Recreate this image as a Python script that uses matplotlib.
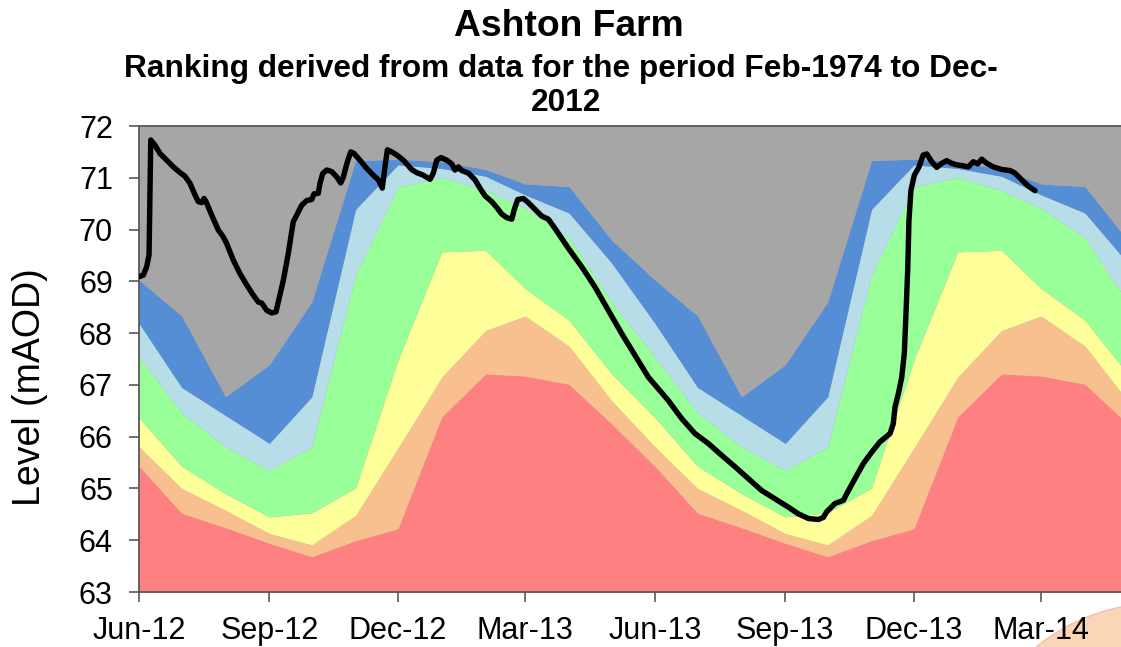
import pandas as pd
import matplotlib
matplotlib.use("Agg")
import matplotlib.pyplot as plt
from matplotlib.patches import Ellipse

plt.rcParams['font.family'] = ['Liberation Sans', 'DejaVu Sans']

# monthly ranking bands, Jun..May (same pattern each year)
red_top = [65.42, 64.52, 64.24, 63.94, 63.68, 63.99, 64.22, 66.38, 67.21, 67.17, 67.01, 66.25]
salmon_top = [65.80, 65.00, 64.58, 64.13, 63.91, 64.48, 65.78, 67.15, 68.05, 68.33, 67.75, 66.70]
yellow_top = [66.36, 65.43, 64.90, 64.45, 64.53, 65.01, 67.48, 69.57, 69.60, 68.86, 68.25, 67.22]
green_top = [67.53, 66.46, 65.80, 65.35, 65.80, 69.12, 70.82, 71.01, 70.75, 70.41, 69.84, 68.60]
lblue_top = [68.18, 66.95, 66.41, 65.87, 66.77, 70.39, 71.25, 71.18, 71.03, 70.67, 70.32, 69.36]
blue_top = [69.02, 68.33, 66.77, 67.39, 68.60, 71.33, 71.36, 71.31, 71.16, 70.88, 70.83, 69.80]

band_colors = ["#FF8080", "#F9C08F", "#FFFF99", "#99FF99", "#B7DDE8", "#558ED5"]
gray = "#A6A6A6"

# observed level, days since 1 Jun 2012
line_days = [0, 2.8, 5.2, 6.9, 8.1, 11.1, 14.6, 19.4, 24.1, 28.8, 32.3, 35.9, 39.4, 41.7,
             44.1, 45.8, 47.2, 51.2, 55.9, 59.4, 61.8, 66.5, 71.2, 76.0, 80.7, 84.2, 86.6,
             90.1, 93.7, 96.7, 98.3, 101.9, 105.4, 108.9, 111.4, 114.9, 118.4, 122.0,
             123.6, 126.6, 127.8, 129.7, 132.6, 136.1, 139.6, 142.5, 144.3, 147.2, 149.6,
             151.9, 156.1, 160.9, 165.5, 169.1, 171.9, 173.8, 175.5, 178.6, 182.1, 186.8,
             192.7, 196.2, 200.9, 205.7, 208.0, 210.4, 213.4, 217.5, 221.0, 223.3, 225.7,
             228.1, 232.8, 237.5, 241.0, 244.6, 249.3, 252.8, 256.4, 259.9, 263.5, 265.3,
             267.7, 271.7, 275.2, 280.0, 284.7, 289.4, 294.1, 303.5, 313.0, 322.4, 331.8,
             341.3, 350.7, 360.1, 374.2, 383.7, 393.1, 402.5, 412.0, 421.4, 430.8, 440.3,
             449.7, 459.1, 466.2, 473.3, 480.4, 483.9, 486.3, 492.2, 498.1, 500.5, 506.3,
             512.2, 518.1, 524.0, 531.1, 533.4, 534.6, 537.0, 539.4, 541.2, 542.2, 543.6,
             544.5, 545.9, 548.3, 551.6, 554.6, 557.1, 560.6, 564.1, 567.7, 571.2, 574.7,
             578.3, 582.9, 586.5, 590.0, 593.1, 596.0, 599.5, 604.2, 610.1, 616.0, 619.5,
             624.3, 628.9, 633.7]
line_level = [69.09, 69.12, 69.28, 69.51, 71.73, 71.63, 71.47, 71.34, 71.21, 71.10, 71.03,
              70.89, 70.67, 70.54, 70.52, 70.60, 70.54, 70.28, 69.99, 69.86, 69.73, 69.41,
              69.15, 68.93, 68.73, 68.60, 68.58, 68.44, 68.39, 68.41, 68.60, 69.02, 69.54,
              70.15, 70.28, 70.47, 70.56, 70.58, 70.69, 70.70, 70.89, 71.08, 71.15, 71.12,
              71.02, 70.90, 71.01, 71.31, 71.50, 71.47, 71.34, 71.18, 71.05, 70.96, 70.80,
              71.21, 71.54, 71.50, 71.44, 71.34, 71.16, 71.10, 71.05, 70.97, 71.09, 71.34,
              71.39, 71.34, 71.27, 71.15, 71.21, 71.14, 71.09, 70.96, 70.80, 70.65, 70.54,
              70.43, 70.30, 70.23, 70.20, 70.39, 70.58, 70.60, 70.52, 70.39, 70.26, 70.20,
              70.02, 69.64, 69.28, 68.89, 68.44, 67.99, 67.57, 67.15, 66.70, 66.35, 66.06,
              65.87, 65.64, 65.42, 65.19, 64.96, 64.80, 64.64, 64.51, 64.42, 64.40, 64.44,
              64.55, 64.71, 64.77, 64.90, 65.19, 65.48, 65.70, 65.90, 66.06, 66.25, 66.57,
              66.83, 67.15, 67.61, 68.25, 69.22, 70.18, 70.76, 71.05, 71.21, 71.44, 71.46,
              71.31, 71.20, 71.28, 71.33, 71.28, 71.25, 71.23, 71.21, 71.31, 71.27, 71.36,
              71.28, 71.21, 71.16, 71.14, 71.09, 70.96, 70.84, 70.75]

tick_dates = ["2012-06-01", "2012-09-01", "2012-12-01", "2013-03-01",
              "2013-06-01", "2013-09-01", "2013-12-01", "2014-03-01"]
tick_labels = ["Jun-12", "Sep-12", "Dec-12", "Mar-13", "Jun-13", "Sep-13", "Dec-13", "Mar-14"]

start = pd.Timestamp("2012-06-01")
months = pd.date_range(start, periods=24, freq="MS")
line_dates = start + pd.to_timedelta(line_days, unit="D")

fig = plt.figure(figsize=(11.21, 6.47), dpi=100)
ax = fig.add_axes([139.3 / 1121, 1 - 592 / 647, 1 - 139.3 / 1121, 466 / 647])
ax.set_facecolor(gray)

ymin, ymax = 63, 72
lower = [ymin] * 24
for top, col in zip([red_top, salmon_top, yellow_top, green_top, lblue_top, blue_top], band_colors):
    upper = top * 2
    ax.fill_between(months, lower, upper, color=col, linewidth=0)
    lower = upper
ax.fill_between(months, lower, [ymax] * 24, color=gray, linewidth=0)

ax.plot(line_dates, line_level, color="black", linewidth=3.9, solid_capstyle="round",
        solid_joinstyle="round", zorder=5)

ax.set_xlim(start, start + pd.Timedelta(days=694.5))
ax.set_ylim(ymin, ymax)
ax.set_yticks(range(63, 73))
ax.set_xticks(pd.to_datetime(tick_dates))
ax.set_xticklabels(tick_labels)
ax.tick_params(axis="both", labelsize=22, length=7, width=1.2, color="#595959",
               direction="out")
ax.tick_params(axis="x", pad=10.5)
ax.tick_params(axis="y", pad=12)
for s in ["left", "bottom", "top"]:
    ax.spines[s].set_color("#595959")
    ax.spines[s].set_linewidth(1.3)
ax.spines["right"].set_visible(False)

fig.text(30 / 1121, 1 - 387 / 647, "Level (mAOD)", rotation=90, fontsize=27,
         ha="center", va="center")
fig.text(569 / 1121, 1 - 27 / 647, "Ashton Farm", fontsize=26.8, fontweight="bold",
         ha="center", va="center")
fig.text(561 / 1121, 1 - 69 / 647, "Ranking derived from data for the period Feb-1974 to Dec-",
         fontsize=22.8, fontweight="bold", ha="center", va="center")
fig.text(566 / 1121, 1 - 103 / 647, "2012", fontsize=22.8, fontweight="bold",
         ha="center", va="center")

# cropped peach shape at the lower right corner of the original image
fig.patches.append(Ellipse((1160 / 1121, 1 - 800 / 647), 2 * 197 / 1121, 2 * 197 / 647,
                           transform=fig.transFigure, facecolor="#FAD6B6",
                           edgecolor="#F4A8A0", linewidth=0.6, zorder=-1))

fig.savefig("out.png", dpi=100)
